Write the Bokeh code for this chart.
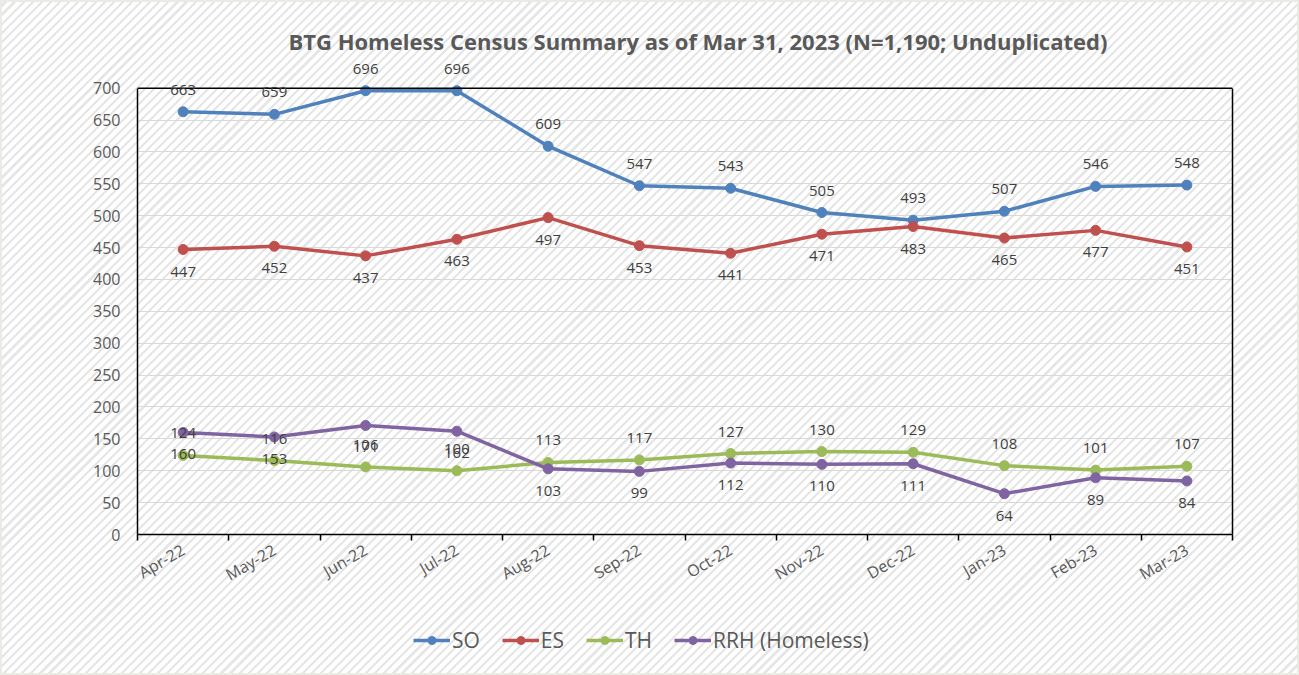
import math
from bokeh.plotting import figure
from bokeh.layouts import column
from bokeh.core.properties import value
from bokeh.models import (ColumnDataSource, FixedTicker, LabelSet, Legend, LegendItem,
                          Range1d, Span, LinearAxis)
from bokeh.embed import file_html
from bokeh.resources import INLINE

months = ["Apr-22", "May-22", "Jun-22", "Jul-22", "Aug-22", "Sep-22",
          "Oct-22", "Nov-22", "Dec-22", "Jan-23", "Feb-23", "Mar-23"]
so = [663, 659, 696, 696, 609, 547, 543, 505, 493, 507, 546, 548]
es = [447, 452, 437, 463, 497, 453, 441, 471, 483, 465, 477, 451]
th = [124, 116, 106, 100, 113, 117, 127, 130, 129, 108, 101, 107]
rrh = [160, 153, 171, 162, 103, 99, 112, 110, 111, 64, 89, 84]

series = [
    ("SO", so, "#4F81BD", -22),
    ("ES", es, "#C0504D", 22),
    ("TH", th, "#9BBB59", -22),
    ("RRH (Homeless)", rrh, "#8064A2", 22),
]

FONT = "Open Sans"
W = 1299
H1, H2 = 601, 74
YMAX = 700
YTOP = 745  # headroom so labels above the 700 line are not clipped

p = figure(width=W, height=H1, output_backend="svg", toolbar_location=None,
           x_range=Range1d(0, 12), y_range=Range1d(0, YTOP),
           min_border_left=137, min_border_right=67, min_border_top=59,
           min_border_bottom=67)
p.border_fill_color = None
p.background_fill_color = None
p.outline_line_color = None

p.title.text = "BTG Homeless Census Summary as of Mar 31, 2023 (N=1,190; Unduplicated)"
p.title.align = "left"
p.title.text_font = FONT
p.title.text_font_size = "22px"
p.title.text_color = "#595959"
p.title.text_font_style = "bold"
p.title.offset = 151
p.title.standoff = 7

xs = [i + 0.5 for i in range(len(months))]

p.yaxis.ticker = FixedTicker(ticks=list(range(0, YMAX + 1, 50)))
p.yaxis.bounds = (0, YMAX)
p.yaxis.major_tick_line_color = None
p.yaxis.minor_tick_line_color = None
p.yaxis.axis_line_color = "black"
p.yaxis.axis_line_width = 1.5
p.yaxis.major_label_text_font = FONT
p.yaxis.major_label_text_font_size = "16px"
p.yaxis.major_label_text_color = "#595959"
p.yaxis.major_label_standoff = 11

# right border of plot area
rax = LinearAxis(bounds=(0, YMAX), ticker=FixedTicker(ticks=[]),
                 axis_line_color="black", axis_line_width=1.5,
                 major_tick_line_color=None, minor_tick_line_color=None,
                 major_label_text_font_size="0px", major_label_standoff=0)
p.add_layout(rax, "right")

p.xaxis.ticker = FixedTicker(ticks=xs, minor_ticks=list(range(0, 13)))
p.xaxis.major_label_overrides = {x: m for x, m in zip(xs, months)}
p.xaxis.major_tick_line_color = None
p.xaxis.minor_tick_line_color = "black"
p.xaxis.minor_tick_line_width = 1.5
p.xaxis.minor_tick_out = 6
p.xaxis.minor_tick_in = 0
p.xaxis.axis_line_color = "black"
p.xaxis.axis_line_width = 1.5
p.xaxis.major_label_orientation = math.pi / 6
p.xaxis.major_label_text_font = FONT
p.xaxis.major_label_text_font_size = "16px"
p.xaxis.major_label_text_color = "#595959"
p.xaxis.major_label_standoff = 8

p.xgrid.grid_line_color = None
p.ygrid.ticker = FixedTicker(ticks=list(range(50, YMAX, 50)))
p.ygrid.grid_line_color = "#d9d9d9"
p.ygrid.grid_line_width = 1.2

# top border of plot area
p.add_layout(Span(location=YMAX, dimension="width", line_color="black", line_width=1.5))

# legend figure
p2 = figure(width=W, height=H2, output_backend="svg", toolbar_location=None,
            x_range=Range1d(0, 1), y_range=Range1d(0, 1),
            x_axis_location=None, y_axis_location=None,
            min_border_left=137, min_border_right=67, min_border_top=0,
            min_border_bottom=0)
p2.border_fill_color = None
p2.background_fill_color = None
p2.outline_line_color = None
p2.grid.grid_line_color = None

items = []
for name, vals, color, off in series:
    src = ColumnDataSource(dict(x=xs, y=vals, lab=[str(v) for v in vals]))
    p.line("x", "y", source=src, line_color=color, line_width=3.5)
    p.scatter("x", "y", source=src, marker="circle", size=10,
              fill_color=color, line_color=color)
    p.add_layout(LabelSet(x="x", y="y", text="lab", source=src,
                          y_offset=-off, text_align="center", text_baseline="middle",
                          text_font=value(FONT), text_font_size="15px",
                          text_color="#404040"))
    # off-range proxy so the legend can draw the line+marker swatch
    proxy = ColumnDataSource(dict(x=[-5, -4], y=[-5, -5]))
    l1 = p2.line("x", "y", source=proxy, line_color=color, line_width=3.5)
    l2 = p2.scatter("x", "y", source=proxy, marker="circle", size=10,
                    fill_color=color, line_color=color)
    items.append(LegendItem(label=name, renderers=[l1, l2]))

legend = Legend(items=items, orientation="horizontal", location=(272, 17))
legend.label_text_font = FONT
legend.label_text_font_size = "21px"
legend.label_text_color = "#595959"
legend.background_fill_alpha = 0
legend.border_line_alpha = 0
legend.glyph_width = 37
legend.label_standoff = 2
legend.spacing = 22
legend.margin = 0
legend.padding = 4
p2.add_layout(legend)

layout = column(p, p2, spacing=0)
layout.styles = {
    "background-image": "repeating-linear-gradient(135deg, #ffffff 0px, #ffffff 4.2px, #e6e6e6 4.2px, #e6e6e6 6.4px)",
    "box-shadow": "inset 0 0 0 2px #ebebe6",
}

open("out.html", "w").write(file_html(layout, INLINE))
